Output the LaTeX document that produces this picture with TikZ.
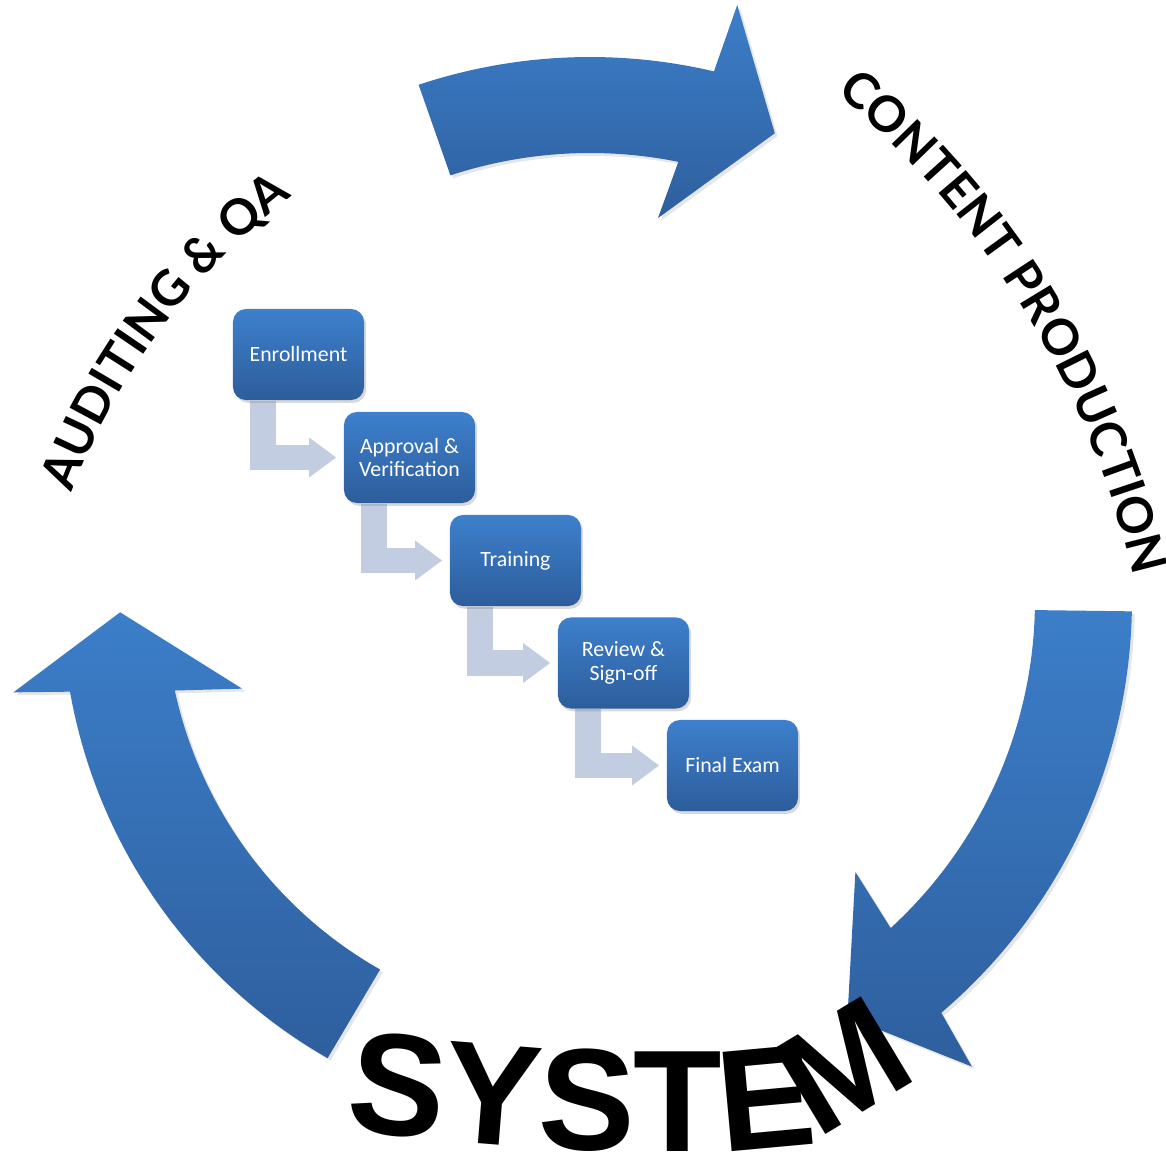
\documentclass[tikz,border=0pt]{standalone}
\usepackage{fontspec}
\usetikzlibrary{arrows.meta,decorations.text,shadows,backgrounds}
\newfontfamily\boxfont{Carlito}
\newfontfamily\arcfont{Lato}
\newfontfamily\sysfont{Liberation Sans}
\definecolor{arrowtop}{HTML}{3C7EC9}
\definecolor{arrowbot}{HTML}{2E5F9E}
\definecolor{boxtop}{HTML}{3D80CD}
\definecolor{boxbot}{HTML}{2D5D9B}
\definecolor{bentgray}{HTML}{C2CDE1}
\begin{document}
\begin{tikzpicture}[x=.01cm,y=-.01cm,
  bigarrow/.style={top color=arrowtop,bottom color=arrowbot,
    drop shadow={opacity=.2,shadow xshift=.8pt,shadow yshift=-.8pt}},
  stepbox/.style={rounded corners=3.7pt,top color=boxtop,bottom color=boxbot,
    minimum width=1.31cm,minimum height=.91cm,inner sep=1pt,align=center,
    text=white,font=\boxfont\fontsize{6.2}{6.7}\selectfont,
    drop shadow={opacity=.3,shadow xshift=.6pt,shadow yshift=-.8pt}},
  bent/.style={draw=bentgray,line width=7.3pt,
    -{Triangle[length=7.7pt,width=10.8pt]}}]
\useasboundingbox (0,0) rectangle (1166,1158);

% curved arrows round the cycle
\begin{scope}[shift={(590,600)}]
\path[bigarrow] (-108.4:543) arc[start angle=-108.4,end angle=-76.8,radius=543]
  -- (-76.1:613) -- (-68.4:502) -- (-79.9:388) -- (-78.6:447)
  arc[start angle=-78.6,end angle=-108.2,radius=447] -- cycle;
\path[bigarrow] (1.2:542) arc[start angle=1.2,end angle=49.6,radius=542]
  -- (50.7:603) -- (58.3:490) -- (45.7:380) -- (47.5:445)
  arc[start angle=47.5,end angle=1.3,radius=445] -- cycle;
\path[bigarrow] (178.5:470) -- (165.7:359) -- (167.7:425)
  arc[start angle=167.7,end angle=119.6,radius=425] -- (119.8:528)
  arc[start angle=119.8,end angle=170,radius=528] -- (170.9:584) -- cycle;
\end{scope}

% arched labels
\begin{scope}[shift={(263,778)}]
\path[decorate,decoration={text along path,text align=fit to path,
  text={|\arcfont\bfseries\fontsize{14}{14}\selectfont|CONTENT PRODUCTION}}]
  (-50.1:893.5) arc[start angle=-50.1,end angle=-13.2,radius=893.5];
\end{scope}
\begin{scope}[shift={(704,732)}]
\path[decorate,decoration={text along path,text align=fit to path,
  text={|\arcfont\bfseries\fontsize{14}{14}\selectfont|AUDITING {\&} QA}}]
  (-159.3:676) arc[start angle=-159.3,end angle=-127.5,radius=676];
\end{scope}
\path[decorate,decoration={text along path,
  text={|\sysfont\bfseries\fontsize{41.2}{41.2}\selectfont|SYSTEM}}]
  (345,1129) to[out=-7,in=180] (675,1151) to[out=0,in=-172] (812,1143)
  -- (950,1060);

% steps
\node[stepbox] (enroll) at (298.5,354.5) {Enrollment};
\node[stepbox] (approve) at (409.5,457.5) {Approval \&\\Verification};
\node[stepbox] (train) at (515.5,560.5) {Training};
\node[stepbox] (review) at (623.5,663) {Review \&\\Sign-off};
\node[stepbox] (exam) at (732.5,765.5) {Final Exam};

\begin{scope}[on background layer]
\draw[bent] ([xshift=-.355cm]enroll.south) |- ([xshift=-.07cm]approve.west);
\draw[bent] ([xshift=-.355cm]approve.south) |- ([xshift=-.07cm]train.west);
\draw[bent] ([xshift=-.355cm]train.south) |- ([xshift=-.07cm]review.west);
\draw[bent] ([xshift=-.355cm]review.south) |- ([xshift=-.07cm]exam.west);
\end{scope}
\end{tikzpicture}
\end{document}
